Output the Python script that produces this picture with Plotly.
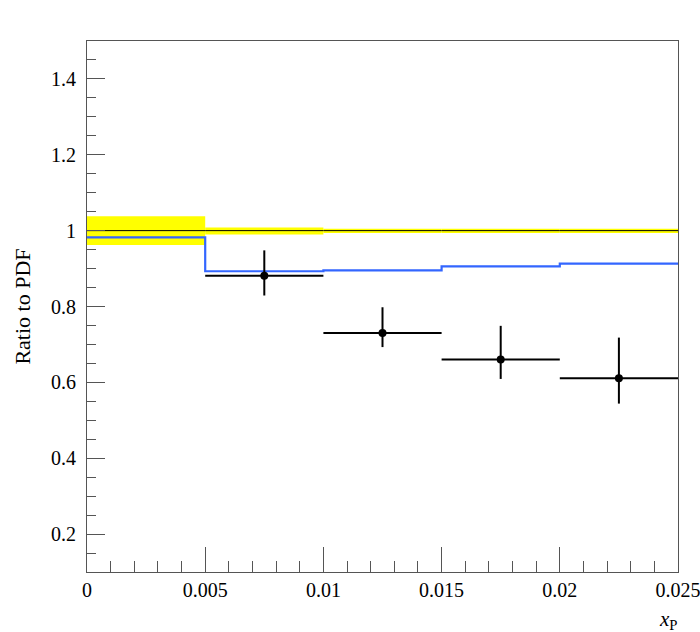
import plotly.graph_objects as go

# Bin edges (x_P)
bin_edges = [0.0, 0.005, 0.01, 0.015, 0.02, 0.025]
bin_centers = [0.0025, 0.0075, 0.0125, 0.0175, 0.0225]

# PDF uncertainty band (yellow)
band_low = [0.962, 0.990, 0.994, 0.994, 0.994]
band_high = [1.038, 1.008, 1.005, 1.005, 1.005]

# Reference ratio (PDF / PDF = 1)
ref_ratio = [1.0, 1.0, 1.0, 1.0, 1.0]

# Blue prediction (step histogram)
blue_ratio = [0.982, 0.893, 0.895, 0.906, 0.913]

# Data points
data_x = [0.0075, 0.0125, 0.0175, 0.0225]
data_y = [0.881, 0.730, 0.660, 0.611]
data_err_up = [0.948, 0.798, 0.749, 0.718]
data_err_lo = [0.829, 0.693, 0.609, 0.544]
data_xhalf = [0.0025, 0.0025, 0.0025, 0.0025]

# Tick labels
x_tickvals = [0, 0.005, 0.01, 0.015, 0.02, 0.025]
x_ticktext = ["0", "0.005", "0.01", "0.015", "0.02", "0.025"]
y_tickvals = [0.2, 0.4, 0.6, 0.8, 1.0, 1.2, 1.4]
y_ticktext = ["0.2", "0.4", "0.6", "0.8", "1", "1.2", "1.4"]

FONT = "Liberation Serif"

fig = go.Figure()

# Yellow band
fig.add_trace(go.Bar(
    x=bin_centers,
    y=[h - l for h, l in zip(band_high, band_low)],
    base=band_low,
    width=[bin_edges[i + 1] - bin_edges[i] for i in range(len(bin_centers))],
    marker=dict(color="#ffff00", line=dict(width=0)),
    showlegend=False, hoverinfo="skip",
))

# Reference line at 1
fig.add_trace(go.Scatter(
    x=bin_edges, y=ref_ratio + [ref_ratio[-1]],
    mode="lines", line=dict(color="black", width=1, shape="hv"),
    showlegend=False,
))

# Blue step
fig.add_trace(go.Scatter(
    x=bin_edges, y=blue_ratio + [blue_ratio[-1]],
    mode="lines", line=dict(color="#3366ff", width=2.2, shape="hv"),
    showlegend=False,
))

# Data
fig.add_trace(go.Scatter(
    x=data_x, y=data_y, mode="markers",
    marker=dict(color="black", size=8, symbol="circle"),
    error_y=dict(type="data", symmetric=False,
                 array=[u - y for u, y in zip(data_err_up, data_y)],
                 arrayminus=[y - l for l, y in zip(data_err_lo, data_y)],
                 color="black", thickness=2, width=0),
    error_x=dict(type="data", array=data_xhalf, color="black", thickness=2, width=0),
    showlegend=False,
))

axcol = "#555555"
fig.update_layout(
    width=700, height=632,
    margin=dict(l=87, r=22, t=41, b=60),
    plot_bgcolor="white", paper_bgcolor="white",
    barmode="overlay",
    font=dict(family=FONT, size=20, color="black"),
    xaxis=dict(
        range=[0, 0.025], showgrid=False, zeroline=False, automargin=False,
        showline=True, linecolor=axcol, linewidth=1, mirror=True,
        ticks="inside", ticklen=25, tickcolor=axcol, tickwidth=1,
        tickvals=x_tickvals, ticktext=x_ticktext,
        minor=dict(ticks="inside", ticklen=11, dtick=0.001, tick0=0,
                   tickcolor=axcol, showgrid=False),
        ticklabelstandoff=0,
        ticklabeloverflow="allow",
    ),
    yaxis=dict(
        range=[0.1, 1.5], showgrid=False, zeroline=False, automargin=False,
        showline=True, linecolor=axcol, linewidth=1, mirror=True,
        ticks="inside", ticklen=18, tickcolor=axcol, tickwidth=1,
        tickvals=y_tickvals, ticktext=y_ticktext,
        minor=dict(ticks="inside", ticklen=9, dtick=0.05, tick0=0,
                   tickcolor=axcol, showgrid=False),
        ticklabelstandoff=6,
        title=dict(text="Ratio to PDF", font=dict(family=FONT, size=22), standoff=14),
    ),
    annotations=[dict(
        text="<i>x</i><sub>P</sub>", xref="paper", yref="paper",
        x=1.0, y=0, xanchor="right", yanchor="middle", yshift=-48, xshift=2,
        showarrow=False, font=dict(family=FONT, size=21),
    )],
)

fig.write_html("out.html")
